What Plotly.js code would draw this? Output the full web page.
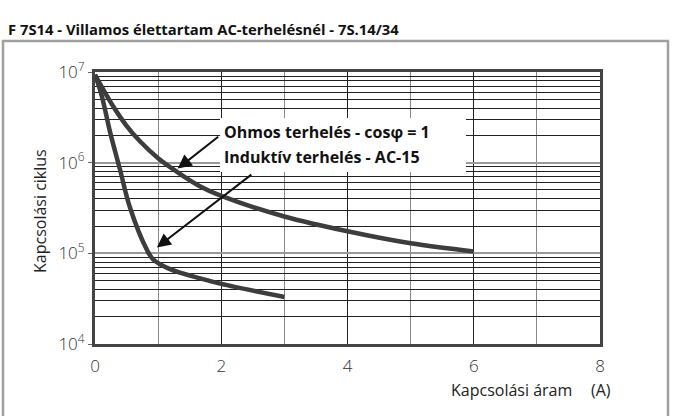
<!DOCTYPE html>
<html>
<head>
<meta charset="utf-8">
<script src="https://cdn.plot.ly/plotly-3.0.1.min.js"></script>
<style>html,body{margin:0;padding:0;background:#fff;}#chart{width:680px;height:416px;}</style>
</head>
<body>
<div id="chart"></div>
<script>
// Data
const ohmX = [0, 0.29, 0.50, 0.712, 1.0, 1.29, 1.66, 2, 3, 4, 5, 6];
const ohmY = [9.3e6, 4.16e6, 2.55e6, 1.72e6, 1.12e6, 8.0e5, 5.5e5, 4.3e5, 2.55e5, 1.75e5, 1.29e5, 1.05e5];
const indX = [0, 0.106, 0.237, 0.396, 0.554, 0.82, 0.92, 1.19, 1.71, 2, 3];
const indY = [9.3e6, 5.5e6, 2.2e6, 8.4e5, 3.2e5, 1.1e5, 8.6e4, 6.7e4, 5.2e4, 4.6e4, 3.3e4];
const yMajor = [1e4, 1e5, 1e6, 1e7];
const yMajorText = ['10<sup>4</sup>', '10<sup>5</sup>', '10<sup>6</sup>', '10<sup>7</sup>'];
const xTicks = [0, 2, 4, 6, 8];
const titleText = 'F 7S14 - Villamos élettartam AC-terhelésnél - 7S.14/34';
const label1 = 'Ohmos terhelés - cosφ = 1';
const label2 = 'Induktív terhelés - AC-15';
const yTitle = 'Kapcsolási ciklus';
const xTitle = 'Kapcsolási áram';
const xUnit = '(A)';

// minor log grid positions (2..9 per decade)
const yMinor = [];
for (let d = 4; d < 7; d++) for (let m = 2; m <= 9; m++) yMinor.push(m * Math.pow(10, d));

const curve = {color: '#3d3d3d', width: 4.5, shape: 'spline', smoothing: 1};
const traces = [
  {x: ohmX, y: ohmY, mode: 'lines', line: curve, hoverinfo: 'skip'},
  {x: indX, y: indY, mode: 'lines', line: curve, hoverinfo: 'skip'}
];

const fam = 'Open Sans, sans-serif';
const tickFont = {family: fam, size: 17, color: '#333', weight: 300};
const layout = {
  width: 680, height: 416,
  margin: {l: 95, r: 80, t: 72, b: 72},
  paper_bgcolor: '#fff', plot_bgcolor: '#fff',
  showlegend: false,
  xaxis: {
    range: [0, 8], tickvals: xTicks, ticks: '', tickfont: tickFont,
    showgrid: true, gridcolor: '#222', gridwidth: 1,
    minor: {dtick: 1, showgrid: true, gridcolor: '#888', gridwidth: 1.2},
    showline: true, linecolor: '#444', linewidth: 3, mirror: true, zeroline: false,
    ticklabelstandoff: 5
  },
  yaxis: {
    type: 'log', range: [4, 7], tickmode: 'array', tickvals: yMajor, ticktext: yMajorText,
    tickfont: tickFont, ticks: 'outside', ticklen: 4, tickcolor: '#666',
    showgrid: true, gridcolor: '#999', gridwidth: 2,
    minor: {tickmode: 'array', tickvals: yMinor, showgrid: true, gridcolor: '#222', gridwidth: 1, ticks: ''},
    showline: true, linecolor: '#444', linewidth: 3, mirror: true, zeroline: false
  },
  title: {
    text: '<b>' + titleText + '</b>',
    font: {family: fam, size: 14.8, color: '#111'},
    xref: 'container', yref: 'container', x: 8 / 680, xanchor: 'left',
    y: 1 - 30 / 416, yanchor: 'middle'
  },
  shapes: [
    // outer gray frame
    {type: 'rect', xref: 'paper', yref: 'paper',
     x0: (3 - 95) / 505, x1: (668 - 95) / 505, y0: -0.3, y1: 1 + (72 - 41) / 272,
     line: {color: '#a0a0a0', width: 2.5}, layer: 'below'},
    // white label box
    {type: 'rect', xref: 'paper', yref: 'paper',
     x0: (220 - 95) / 505, x1: (466 - 95) / 505, y0: 1 - (172 - 72) / 272, y1: 1 - (118 - 72) / 272,
     fillcolor: '#fff', line: {width: 0}, layer: 'above'}
  ],
  annotations: [
    {xref: 'paper', yref: 'paper', x: (222 - 95) / 505, y: 1 - (132 - 72) / 272,
     xanchor: 'left', yanchor: 'middle', showarrow: false,
     text: '<b>' + label1 + '</b>', font: {family: fam, size: 16, color: '#111'}},
    {xref: 'paper', yref: 'paper', x: (222 - 95) / 505, y: 1 - (157 - 72) / 272,
     xanchor: 'left', yanchor: 'middle', showarrow: false,
     text: '<b>' + label2 + '</b>', font: {family: fam, size: 16, color: '#111'}},
    // arrows
    {x: 1.31, y: Math.log10(8.6e5), xref: 'x', yref: 'y', text: '', showarrow: true,
     ax: 42, ay: -33, arrowhead: 2, arrowsize: 1.4, arrowwidth: 2, arrowcolor: '#111', standoff: 0},
    {x: 0.98, y: Math.log10(1.16e5), xref: 'x', yref: 'y', text: '', showarrow: true,
     ax: 96, ay: -74, arrowhead: 2, arrowsize: 1.4, arrowwidth: 2, arrowcolor: '#111', standoff: 0},
    // axis titles
    {xref: 'paper', yref: 'paper', x: (40 - 95) / 505, y: 1 - (211 - 72) / 272,
     xanchor: 'center', yanchor: 'middle', textangle: -90, showarrow: false,
     text: yTitle, font: {family: fam, size: 16, color: '#222'}},
    {xref: 'paper', yref: 'paper', x: (511 - 95) / 505, y: 1 - (390 - 72) / 272,
     xanchor: 'center', yanchor: 'middle', showarrow: false,
     text: xTitle, font: {family: fam, size: 16, color: '#222'}},
    {xref: 'paper', yref: 'paper', x: (601 - 95) / 505, y: 1 - (390 - 72) / 272,
     xanchor: 'center', yanchor: 'middle', showarrow: false,
     text: xUnit, font: {family: fam, size: 16, color: '#222'}}
  ]
};

Plotly.newPlot('chart', traces, layout, {staticPlot: true, displayModeBar: false});
</script>
</body>
</html>
